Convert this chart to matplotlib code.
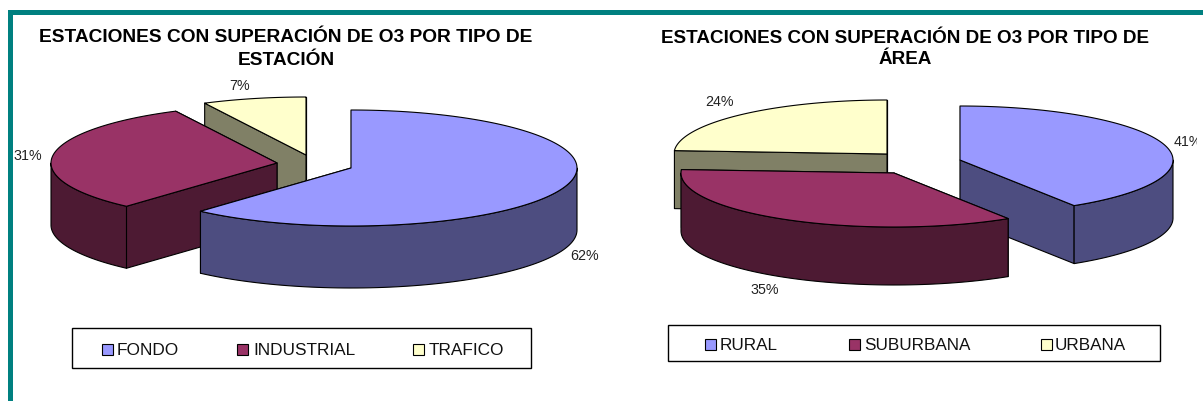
import numpy as np
import matplotlib
matplotlib.use('Agg')
import matplotlib.pyplot as plt
from matplotlib.patches import Polygon, Rectangle

plt.rcParams['font.family'] = ['Liberation Sans', 'DejaVu Sans']

# Data
tipo_estacion = ['FONDO', 'INDUSTRIAL', 'TRAFICO']
valores_estacion = [61.6, 31.0, 7.4]
tipo_area = ['RURAL', 'SUBURBANA', 'URBANA']
valores_area = [41, 35, 24]

titulo_estacion = 'ESTACIONES CON SUPERACIÓN DE O3 POR TIPO DE\nESTACIÓN'
titulo_area = 'ESTACIONES CON SUPERACIÓN DE O3 POR TIPO DE\nÁREA'

# Colours: top face and darker side face
top_colors = ['#9999FF', '#993366', '#FFFFCC']
side_colors = ['#4D4D80', '#4D1A33', '#808066']
TEAL = '#008080'

W, H = 1203, 401


def ell(cx, cy, a, b, theta):
    # theta in degrees, clockwise from 12 o'clock
    t = np.radians(theta)
    return cx + a * np.sin(t), cy - b * np.cos(t)


def draw_slice(ax, i, start, end, cx, cy, a, b, depth, z):
    kw = dict(edgecolor='black', linewidth=0.8, joinstyle='round', zorder=z)
    # the two cut faces, the one further back first
    for ang in sorted((start, end), key=lambda v: ell(cx, cy, a, b, v)[1]):
        x, y = ell(cx, cy, a, b, ang)
        pts = [(cx, cy), (x, y), (x, y + depth), (cx, cy + depth)]
        ax.add_patch(Polygon(pts, facecolor=side_colors[i], **kw))
    # outer wall, only the front part of the rim can be seen
    s, e = max(start, 90), min(end, 270)
    if e > s:
        th = np.linspace(s, e, 80)
        x, y = ell(cx, cy, a, b, th)
        pts = np.r_[np.c_[x, y], np.c_[x, y + depth][::-1]]
        ax.add_patch(Polygon(pts, facecolor=side_colors[i], **kw))
    # top
    th = np.linspace(start, end, 160)
    x, y = ell(cx, cy, a, b, th)
    pts = np.r_[[(cx, cy)], np.c_[x, y]]
    ax.add_patch(Polygon(pts, facecolor=top_colors[i], **kw))


def draw_pie(ax, valores, centros, a, b, depth, orden):
    total = sum(valores)
    bordes = np.r_[0, np.cumsum(valores)] / total * 360
    for z, i in enumerate(orden):
        draw_slice(ax, i, bordes[i], bordes[i + 1], centros[i][0], centros[i][1], a, b, depth, 2 + z)


def draw_legend(ax, box, nombres, swatch_x, text_x, yc, size):
    ax.add_patch(Rectangle((box[0], box[1]), box[2] - box[0], box[3] - box[1],
                           facecolor='white', edgecolor='black', linewidth=1.0, zorder=2))
    for i, nombre in enumerate(nombres):
        ax.add_patch(Rectangle((swatch_x[i], yc - 5.5), 11, 11, facecolor=top_colors[i],
                               edgecolor='black', linewidth=0.8, zorder=3))
        ax.text(text_x[i], yc, nombre, fontsize=size, va='center_baseline', ha='left', color='#111111', zorder=3)


fig = plt.figure(figsize=(W / 100, H / 100), dpi=100, facecolor='white')
ax = fig.add_axes([0, 0, 1, 1])
ax.set_xlim(0, W)
ax.set_ylim(H, 0)
ax.axis('off')

# Teal frame
ax.add_patch(Rectangle((8, 10), W - 8, 5, facecolor=TEAL, edgecolor='none'))
ax.add_patch(Rectangle((8, 10), 5, H - 10, facecolor=TEAL, edgecolor='none'))

# Left chart
ax.text(286, 49, titulo_estacion, fontsize=13.8, fontweight='bold', ha='center', va='center',
        linespacing=1.42, color='black')
draw_pie(ax, valores_estacion, [(351, 168), (277, 163), (306, 155)], 226, 58, 62, [2, 1, 0])
ax.text(240, 86.5, f'{valores_estacion[2]:.0f}%', fontsize=10.3, ha='center', va='center', color='#222222')
ax.text(28, 156.5, f'{valores_estacion[1]:.0f}%', fontsize=10.3, ha='center', va='center', color='#222222')
ax.text(585, 255.5, f'{valores_estacion[0]:.0f}%', fontsize=10.3, ha='center', va='center', color='#222222')
draw_legend(ax, (72, 328, 531, 368), tipo_estacion, [102, 237, 413], [117, 253, 429], 349, 12.4)

# Right chart
ax.text(905, 49, titulo_area, fontsize=13.55, fontweight='bold', ha='center', va='center',
        linespacing=1.33, color='black')
draw_pie(ax, valores_area, [(960, 160), (894, 173), (887, 154)], 213, 54, 58, [2, 0, 1])
ax.text(720, 102.5, f'{valores_area[2]}%', fontsize=10.3, ha='center', va='center', color='#222222')
ax.text(765, 290.5, f'{valores_area[1]}%', fontsize=10.3, ha='center', va='center', color='#222222')
t41 = ax.text(1174, 141.5, f'{valores_area[0]}%', fontsize=10.3, ha='left', va='center', color='#222222')
# the 41% label is cut by the edge of the chart in the original
t41.set_clip_path(Rectangle((1150, 120), 47, 40, transform=ax.transData))
t41.set_clip_on(True)
draw_legend(ax, (668, 325, 1160, 361), tipo_area, [705, 849, 1041], [720, 864, 1055], 344, 12.3)

fig.savefig('out.png', dpi=100)
